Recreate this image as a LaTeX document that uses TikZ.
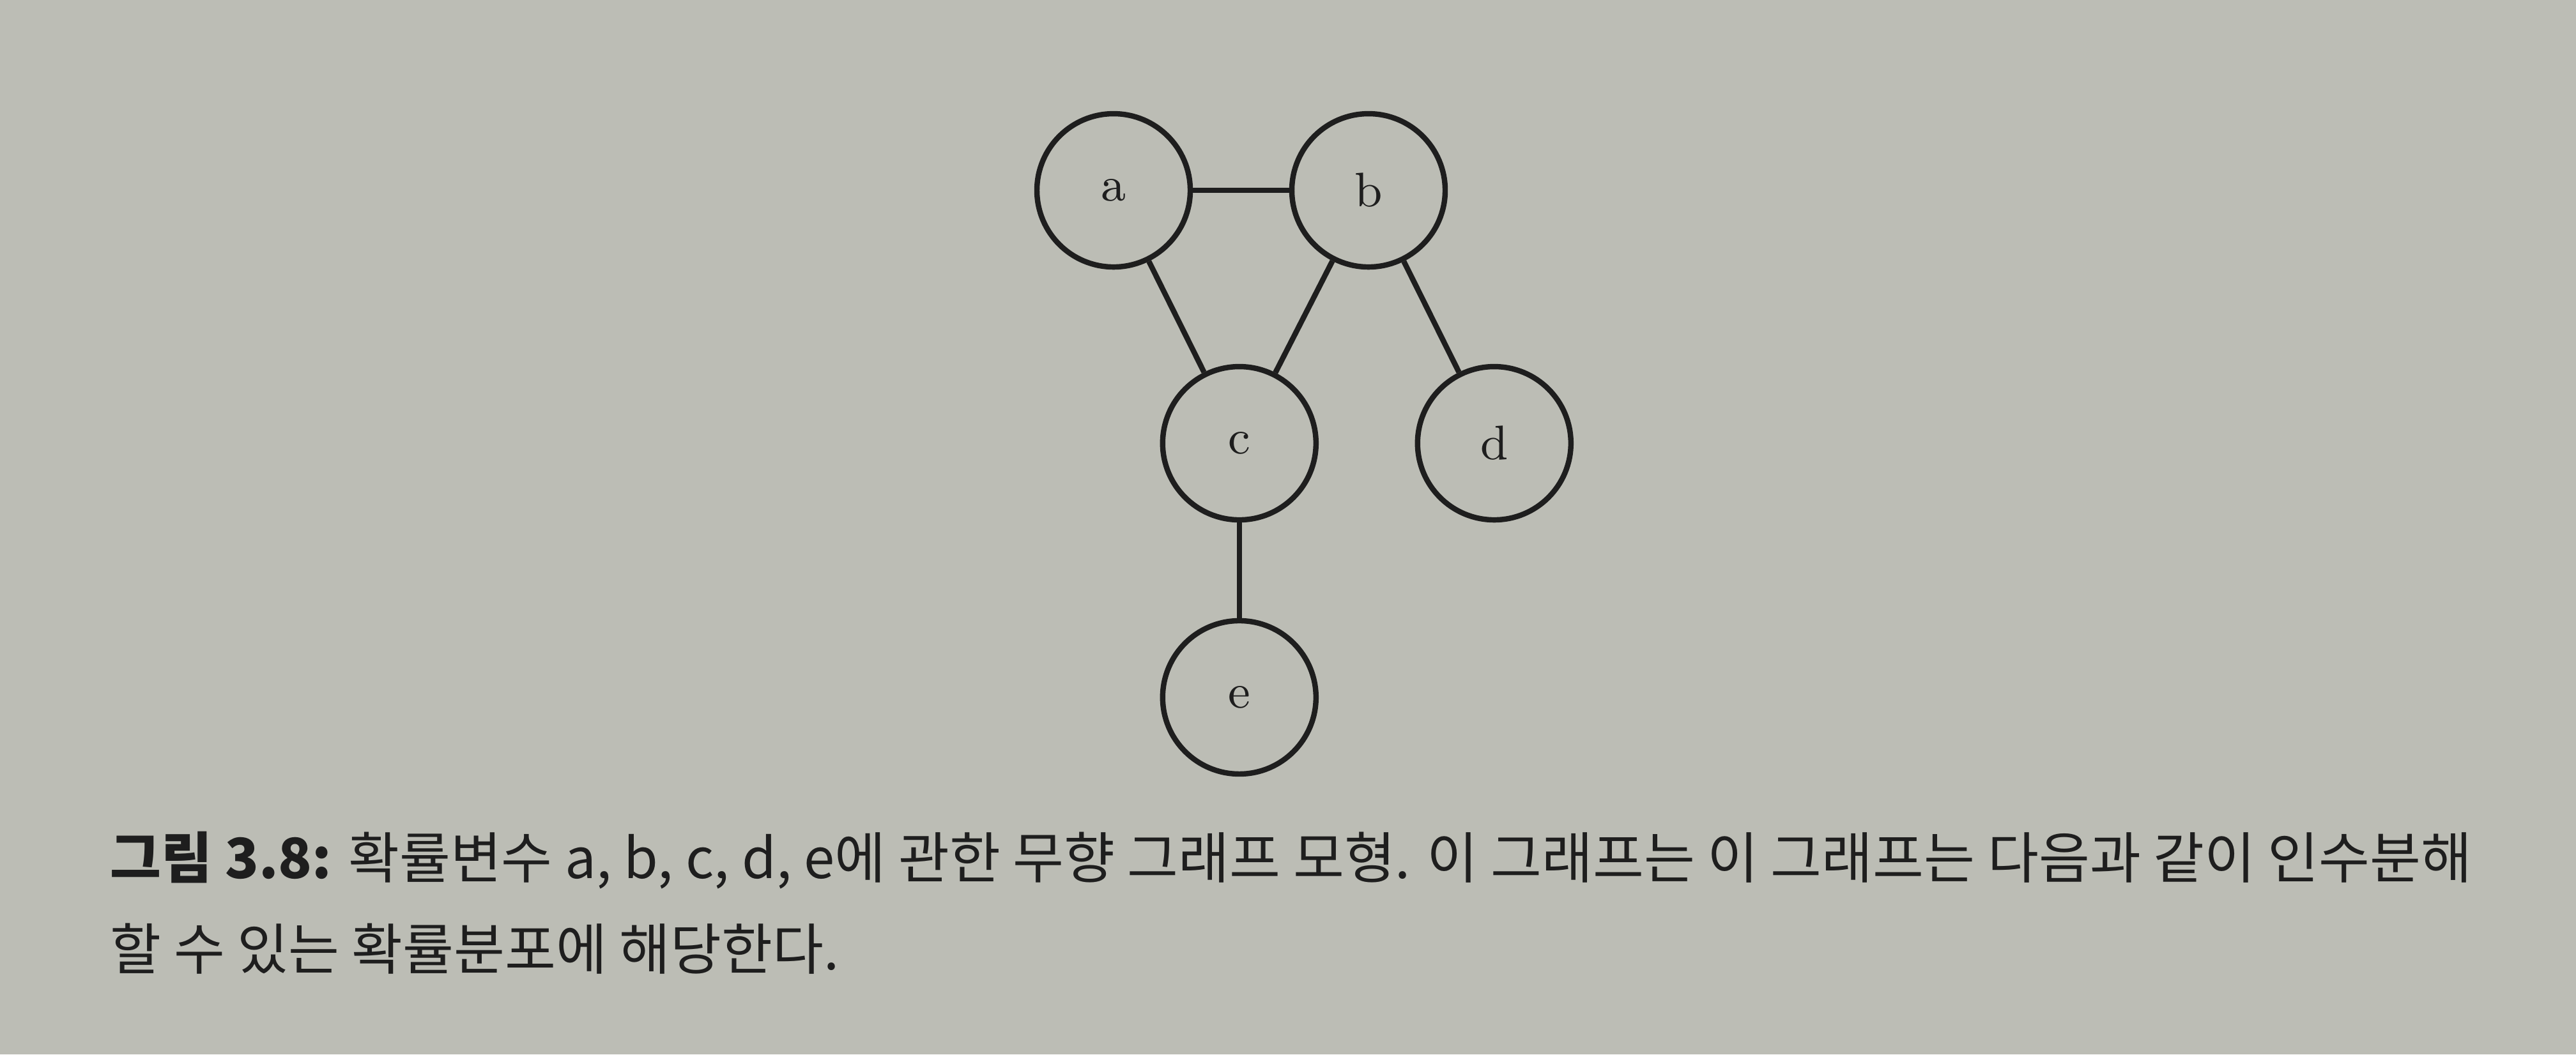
\documentclass[tikz,border=0pt]{standalone}
\usepackage{fontspec}
\newfontfamily\krfont{Noto Sans CJK KR}
\usepackage{tikz}
\usetikzlibrary{positioning}

\definecolor{paper}{RGB}{188,189,181}
\definecolor{ink}{RGB}{30,30,30}

\begin{document}
\begin{tikzpicture}[on grid, vertex/.style={circle, draw=ink, line width=1pt, minimum size=1.0cm, inner sep=0pt, font=\small, text=ink}]
        \fill[paper] (0, 0) rectangle (16.8, -6.879);
        \useasboundingbox (0, 0) rectangle (16.8, -6.879);

        \node[vertex] (nodeA) at (7.2625, -1.2417) {a};
        \node[vertex] (nodeB) [right = 1.6625cm of nodeA] {b};
        \node[vertex] (nodeC) [below right = 1.65cm and 0.82cm of nodeA] {c};
        \node[vertex] (nodeD) [right = 1.6625cm of nodeC] {d};
        \node[vertex] (nodeE) [below = 1.658cm of nodeC] {e};

        \draw[ink, line width=1pt] (nodeA) edge (nodeB);
        \draw[ink, line width=1pt] (nodeA) edge (nodeC);
        \draw[ink, line width=1pt] (nodeB) edge (nodeC);
        \draw[ink, line width=1pt] (nodeB) edge (nodeD);
        \draw[ink, line width=1pt] (nodeC) edge (nodeE);

        \node[anchor=base west, inner sep=0pt, text=ink, font=\krfont\fontsize{10.3}{16}\selectfont] (caption1) at (0.7125, -5.733) {\textbf{그림 3.8:} 확률변수 a, b, c, d, e에 관한 무향 그래프 모형. 이 그래프는 이 그래프는 다음과 같이 인수분해};
        \node[anchor=base west, inner sep=0pt, text=ink, font=\krfont\fontsize{10.3}{16}\selectfont] (caption2) at (0.7125, -6.325) {할 수 있는 확률분포에 해당한다.};
      \end{tikzpicture}
\end{document}
